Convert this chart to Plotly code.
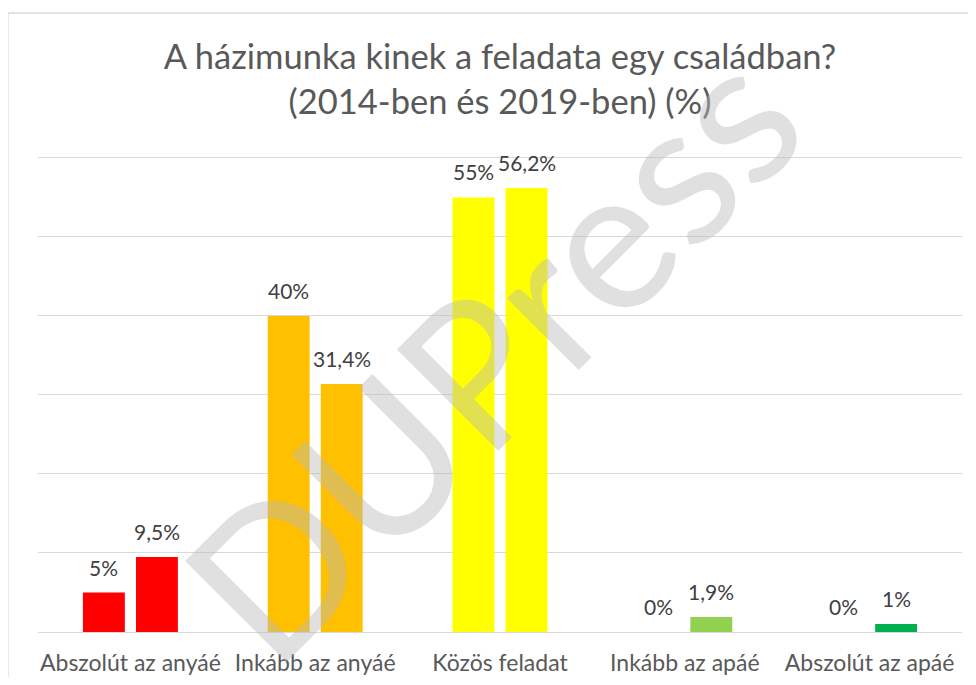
import plotly.graph_objects as go

categories = ["Abszolút az anyáé", "Inkább az anyáé", "Közös feladat", "Inkább az apáé", "Abszolút az apáé"]
values_2014 = [5, 40, 55, 0, 0]
values_2019 = [9.5, 31.4, 56.2, 1.9, 1]
labels_2014 = ["5%", "40%", "55%", "0%", "0%"]
labels_2019 = ["9,5%", "31,4%", "56,2%", "1,9%", "1%"]
category_colors = ["#FF0000", "#FFC000", "#FFFF00", "#92D050", "#00B050"]
y_ticks = [0, 10, 20, 30, 40, 50, 60]

FONT = "Lato"

fig = go.Figure()
fig.add_trace(go.Bar(name="2014", x=categories, y=values_2014,
                     marker=dict(color=category_colors, line=dict(width=0)),
                     hoverinfo="skip"))
fig.add_trace(go.Bar(name="2019", x=categories, y=values_2019,
                     marker=dict(color=category_colors, line=dict(width=0)),
                     hoverinfo="skip"))

annotations = []
for cat, v, t in zip(categories, values_2014, labels_2014):
    annotations.append(dict(x=cat, y=v, xref="x", yref="y", text=t, showarrow=False,
                            xshift=-26.5, yanchor="bottom", yshift=11,
                            font=dict(family=FONT, size=21, color="#404040")))
for cat, v, t in zip(categories, values_2019, labels_2019):
    annotations.append(dict(x=cat, y=v, xref="x", yref="y", text=t, showarrow=False,
                            xshift=26.5, yanchor="bottom", yshift=11,
                            font=dict(family=FONT, size=21, color="#404040")))

# watermark
annotations.append(dict(x=0.4891, y=0.59, xref="paper", yref="paper", text="DUPress",
                        showarrow=False, textangle=-45, xanchor="center", yanchor="middle",
                        font=dict(family=FONT, size=200, color="rgba(184,184,184,0.44)")))

fig.update_layout(
    width=960, height=669,
    margin=dict(l=30, r=6, t=146, b=45),
    paper_bgcolor="white", plot_bgcolor="white",
    barmode="group", bargap=0.426, bargroupgap=0.21,
    showlegend=False,
    title=dict(text="A házimunka kinek a feladata egy családban?<br>(2014-ben és 2019-ben) (%)",
               x=0.5, xref="paper", xanchor="center", y=0.9085, yref="container", yanchor="top",
               font=dict(family=FONT, size=34.5, color="#595959")),
    xaxis=dict(showgrid=False, showline=False, zeroline=False, ticks="",
               tickfont=dict(family=FONT, size=23, color="#595959"),
               ticklabelstandoff=15, automargin=False),
    yaxis=dict(range=[0, 60.5], tickvals=y_ticks, showticklabels=False, showgrid=True,
               gridcolor="#D9D9D9", gridwidth=1.3, zeroline=True, zerolinecolor="#D9D9D9",
               zerolinewidth=1.3, showline=False, ticks="", automargin=False),
    annotations=annotations,
    shapes=[dict(type="rect", xref="paper", yref="paper", x0=-0.0325, x1=1.2, y0=-0.2, y1=1.295,
                 line=dict(color="#D9D9D9", width=1.3), fillcolor="rgba(0,0,0,0)", layer="below")],
)

fig.write_html("out.html")
